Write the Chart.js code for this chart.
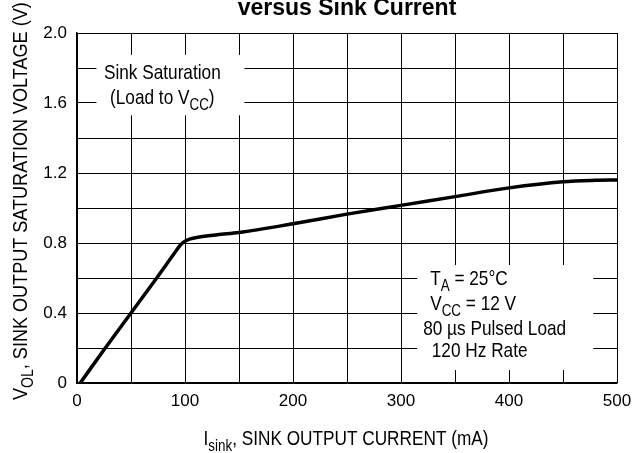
<!DOCTYPE html>
<html>
<head>
<meta charset="utf-8">
<script src="https://cdn.jsdelivr.net/npm/chart.js@4.4.1/dist/chart.umd.min.js"></script>
<style>
  html, body { margin: 0; padding: 0; background: #fff; }
  #wrap { width: 632px; height: 453px; }
</style>
</head>
<body>
<div id="wrap"><canvas id="sinkChart" width="632" height="453"></canvas></div>
<script>
// values
const currentMa = [3, 25, 50, 75, 90, 96, 100, 105, 112, 130, 150, 200, 250, 300, 350, 400, 450, 480, 500];
const voltage = [0, 0.19, 0.4, 0.61, 0.74, 0.79, 0.81, 0.824, 0.833, 0.847, 0.86, 0.91, 0.965, 1.015, 1.065, 1.115, 1.15, 1.158, 1.16];

const xTickLabels = ['0', '100', '200', '300', '400', '500'];
const yTickLabels = ['0', '0.4', '0.8', '1.2', '1.6', '2.0'];

const chartTitle = 'versus Sink Current';
const yTitle = [['V', 0], ['OL', 1], [', SINK OUTPUT SATURATION VOLTAGE (V)', 0]];
const xTitle = [['I', 0], ['sink', 1], [', SINK OUTPUT CURRENT (mA)', 0]];
const loadNote = [
  [['Sink Saturation', 0]],
  [['(Load to V', 0], ['CC', 1], [')', 0]]
];
const condNote = [
  [['T', 0], ['A', 1], [' = 25\u00B0C', 0]],
  [['V', 0], ['CC', 1], [' = 12 V', 0]],
  [['80 \u00B5s Pulsed Load', 0]],
  [['120 Hz Rate', 0]]
];

const FONT = "'Liberation Sans', Arial, sans-serif";

function richWidth(ctx, parts, size, squeeze) {
  let w = 0;
  parts.forEach(p => {
    ctx.font = (p[1] ? size * 0.78 : size) + 'px ' + FONT;
    w += ctx.measureText(p[0]).width;
  });
  return w * squeeze;
}

// narrow-face look: draw Liberation Sans squeezed horizontally
function drawRich(ctx, parts, x, y, size, align, squeeze) {
  squeeze = squeeze || 0.82;
  const start = align === 'center' ? x - richWidth(ctx, parts, size, squeeze) / 2 : x;
  ctx.save();
  ctx.translate(start, y);
  ctx.scale(squeeze, 1);
  ctx.textAlign = 'left';
  ctx.textBaseline = 'alphabetic';
  let cx = 0;
  parts.forEach(p => {
    ctx.font = (p[1] ? size * 0.78 : size) + 'px ' + FONT;
    ctx.fillText(p[0], cx, p[1] ? size * 0.3 : 0);
    cx += ctx.measureText(p[0]).width;
  });
  ctx.restore();
}

const notesPlugin = {
  id: 'notes',
  beforeDatasetsDraw(chart) {
    const ctx = chart.ctx;
    const xs = chart.scales.x, ys = chart.scales.y;
    ctx.save();
    ctx.fillStyle = '#fff';
    // white patches behind the two text blocks
    let l = xs.getPixelForValue(18), r = xs.getPixelForValue(155);
    let t = ys.getPixelForValue(1.875), b = ys.getPixelForValue(1.53);
    ctx.fillRect(l, t, r - l, b - t);
    l = xs.getPixelForValue(315); r = xs.getPixelForValue(478);
    t = ys.getPixelForValue(0.674); b = ys.getPixelForValue(0.074);
    ctx.fillRect(l, t, r - l, b - t);
    ctx.restore();
  },
  afterDraw(chart) {
    const ctx = chart.ctx;
    const xs = chart.scales.x, ys = chart.scales.y;
    ctx.save();
    ctx.fillStyle = '#000';

    drawRich(ctx, loadNote[0], xs.getPixelForValue(79), ys.getPixelForValue(1.74), 21, 'center');
    drawRich(ctx, loadNote[1], xs.getPixelForValue(79), ys.getPixelForValue(1.594), 21, 'center');

    const condX = [327, 327, 320.5, 328.5];
    const condY = [0.56, 0.417, 0.274, 0.149];
    condNote.forEach((line, i) => {
      drawRich(ctx, line, xs.getPixelForValue(condX[i]), ys.getPixelForValue(condY[i]), 21, 'left');
    });

    // title (top is cut off in the original)
    ctx.font = 'bold 23px ' + FONT;
    ctx.textAlign = 'center';
    ctx.textBaseline = 'alphabetic';
    ctx.fillText(chartTitle, 347, 15);

    // axis titles
    drawRich(ctx, xTitle, 346, 445, 21, 'center');
    ctx.translate(27, 400);
    ctx.rotate(-Math.PI / 2);
    drawRich(ctx, yTitle, 0, 0, 21, 'left', 0.86);
    ctx.restore();
  }
};

Chart.defaults.color = '#000';

new Chart(document.getElementById('sinkChart'), {
  type: 'line',
  data: {
    datasets: [{
      data: currentMa.map((x, i) => ({ x: x, y: voltage[i] })),
      borderColor: '#000',
      borderWidth: 3.5,
      pointRadius: 0,
      fill: false,
      cubicInterpolationMode: 'monotone'
    }]
  },
  options: {
    responsive: false,
    animation: false,
    layout: { padding: { top: 33, right: 15, left: 0, bottom: 0 } },
    plugins: { legend: { display: false }, tooltip: { enabled: false } },
    scales: {
      x: {
        type: 'linear',
        min: 0,
        max: 500,
        ticks: {
          stepSize: 50,
          autoSkip: false,
          maxRotation: 0,
          padding: 8,
          font: { family: FONT, size: 17 },
          callback: v => (v % 100 === 0 ? xTickLabels[v / 100] : '')
        },
        grid: { color: '#000', lineWidth: 1, drawTicks: false },
        border: { color: '#000', width: 1.5 },
        afterFit: s => { s.height = 70; s.paddingRight = 0; s.paddingLeft = 0; }
      },
      y: {
        min: 0,
        max: 2,
        ticks: {
          stepSize: 0.2,
          autoSkip: false,
          padding: 10,
          font: { family: FONT, size: 17 },
          callback: v => {
            const k = Math.round(v * 10);
            return k % 4 === 0 ? yTickLabels[k / 4] : '';
          }
        },
        grid: { color: '#000', lineWidth: 1, drawTicks: false },
        border: { color: '#000', width: 1.5 },
        afterFit: s => { s.width = 77; s.paddingTop = 0; s.paddingBottom = 0; }
      }
    }
  },
  plugins: [notesPlugin]
});
</script>
</body>
</html>
